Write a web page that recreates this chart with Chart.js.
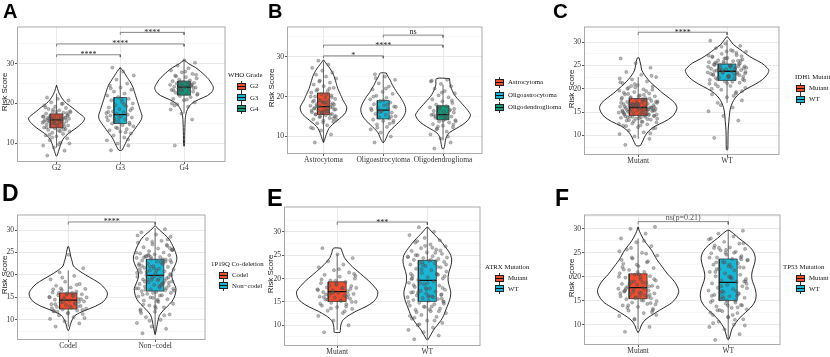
<!DOCTYPE html>
<html><head><meta charset="utf-8">
<script src="https://cdn.jsdelivr.net/npm/chart.js@4.4.1/dist/chart.umd.min.js"></script>
<style>
html,body{margin:0;padding:0;background:#fff;}
body{width:830px;height:357px;position:relative;overflow:hidden;font-family:"Liberation Serif","Times New Roman",serif;}
.lt{position:absolute;font-family:"Liberation Sans",Arial,sans-serif;font-weight:bold;color:#000;line-height:1;}
.yt{position:absolute;font-family:"Liberation Sans",Arial,sans-serif;font-size:8px;color:#222;transform:translate(-50%,-50%) rotate(-90deg);white-space:nowrap;line-height:1;}
.lg{position:absolute;font-size:6.8px;color:#111;white-space:nowrap;line-height:1;transform:translateY(-50%);}
</style>
</head><body>
<script>
// ================= DATA =================
const catsA = ['G2','G3','G4'];
const catsB = ['Astrocytoma','Oligoastrocytoma','Oligodendroglioma'];
const catsC = ['Mutant','WT'];
const catsD = ['Codel','Non\u2212codel'];
const catsE = ['Mutant','WT'];
const catsF = ['Mutant','WT'];

const titleA = 'WHO Grade';
const titleB = '';
const titleC = 'IDH1 Mutation';
const titleD = '1P19Q Co-deletion';
const titleE = 'ATRX Mutation';
const titleF = 'TP53 Mutation';
const axisTitle = 'Risk Score';

const majorsAB = [10,20,30];
const minorsAB = [15,25,35];
const majorsCF = [10,15,20,25,30];
const minorsCF = [7.5,12.5,17.5,22.5,27.5,32.5];

// box stats: [lower whisker, Q1, median, Q3, upper whisker]
const boxA = [[9.0,13.9,15.9,17.4,22.5],[8.5,15.0,17.2,21.5,29.0],[17.5,22.1,24.1,25.6,30.5]];
const boxB = [[8.5,15.5,17.5,20.9,28.8],[8.4,14.4,16.6,19.0,25.6],[9.0,14.2,15.5,17.7,23.0]];
const boxC = [[9.3,14.3,16.0,17.9,22.5],[17.0,21.8,23.75,25.3,30.5]];
const boxD = [[8.5,12.4,14.4,16.0,21.0],[7.0,16.4,19.9,23.5,30.5]];
const boxE = [[9.0,15.1,17.2,19.3,25.2],[7.0,15.1,19.6,23.9,31.0]];
const boxF = [[9.0,15.4,17.7,20.6,28.0],[7.0,15.0,18.8,23.7,29.7]];

// violin density profiles: [risk score, half width in category units]
const vA1 = [[24.6,0],[23,0.03],[22,0.06],[21,0.10],[20,0.16],[19,0.245],[18,0.32],[17,0.40],[16.3,0.44],[15.5,0.42],[15,0.39],[14,0.32],[13,0.23],[12,0.15],[11,0.10],[10,0.07],[9,0.05],[8,0.03],[7,0.01],[6.8,0]];
const vA2 = [[29,0],[28,0.05],[27,0.09],[26,0.13],[25,0.17],[24,0.20],[23,0.22],[22,0.24],[21,0.26],[20,0.28],[19,0.30],[18,0.32],[17,0.34],[16,0.33],[15,0.29],[14,0.245],[13,0.20],[12,0.15],[11,0.11],[10,0.08],[9,0.05],[8.3,0.02]];
const vA3 = [[30.9,0],[30,0.07],[29,0.18],[28,0.26],[27,0.33],[26,0.39],[25,0.43],[24,0.46],[23,0.44],[22,0.37],[21,0.23],[20,0.12],[19,0.07],[18,0.04],[17,0.025],[16,0.018],[14,0.013],[12,0.01],[10,0.008],[9.3,0]];
const vB1 = [[29.2,0],[28,0.06],[27,0.11],[26,0.15],[25,0.18],[24,0.20],[23,0.22],[22,0.24],[21,0.27],[20,0.30],[19,0.33],[18,0.37],[17.2,0.39],[16,0.37],[15,0.31],[14,0.23],[13,0.15],[12,0.09],[11,0.06],[10,0.035],[9,0.015],[8.5,0]];
const vB2 = [[25.9,0.05],[25,0.08],[24,0.12],[23,0.15],[22,0.19],[21,0.23],[20,0.28],[19,0.32],[18,0.355],[17,0.375],[16,0.37],[15,0.34],[14,0.29],[13,0.22],[12,0.15],[11,0.09],[10,0.06],[9,0.03],[8.4,0]];
const vB3 = [[24.5,0.11],[23,0.12],[22,0.14],[21,0.17],[20,0.21],[19,0.27],[18,0.33],[17,0.39],[16,0.44],[15.3,0.46],[14,0.41],[13,0.33],[12,0.22],[11,0.11],[10,0.06],[9,0.04],[8,0.03],[7,0.015],[6.9,0]];
const vC1 = [[26.6,0.01],[25,0.03],[24,0.04],[23,0.07],[22,0.11],[21,0.16],[20,0.22],[19,0.28],[18,0.35],[17,0.41],[16,0.435],[15,0.42],[14,0.38],[13,0.30],[12,0.19],[11,0.12],[10,0.08],[9,0.055],[8,0.03],[7.8,0.02]];
const vC2 = [[31.2,0],[30.5,0.03],[29.5,0.07],[28.5,0.14],[27.5,0.21],[26.5,0.29],[25.5,0.39],[24.5,0.45],[23.9,0.47],[23,0.45],[22,0.40],[21,0.32],[20,0.22],[19,0.14],[18,0.09],[17,0.06],[16,0.04],[15,0.03],[13,0.02],[11,0.012],[9,0.01],[7,0.008],[6.9,0]];
const vD1 = [[26.3,0.005],[25,0.02],[24,0.03],[23,0.045],[22,0.06],[21,0.12],[20,0.2],[19,0.29],[18,0.37],[17,0.42],[16,0.45],[15,0.44],[14,0.40],[13,0.31],[12,0.18],[11,0.08],[10,0.045],[9,0.025],[8,0.012],[7.6,0]];
const vD2 = [[31,0],[30,0.05],[29,0.11],[28,0.16],[27,0.19],[26,0.215],[25,0.235],[24,0.25],[23,0.245],[22,0.225],[21,0.20],[20,0.19],[19,0.20],[18,0.22],[17,0.24],[16,0.235],[15,0.22],[14,0.19],[13,0.14],[12,0.09],[11,0.05],[10,0.035],[9,0.025],[8,0.015],[7,0.005],[6.7,0]];
const vE1 = [[26.5,0.04],[25.5,0.06],[24.5,0.08],[23.5,0.12],[22.5,0.17],[21.5,0.23],[20.5,0.29],[19.5,0.35],[18.5,0.40],[17.2,0.45],[16,0.44],[15,0.40],[14,0.32],[13,0.21],[12,0.12],[11,0.06],[10,0.04],[9,0.035],[8.5,0.033]];
const vE2 = [[31,0.005],[30,0.05],[29,0.10],[28,0.15],[27,0.19],[26,0.23],[25,0.26],[24,0.27],[23,0.265],[22,0.25],[21,0.235],[20,0.23],[19,0.235],[18,0.25],[17,0.26],[16,0.255],[15,0.24],[14,0.22],[13,0.20],[12,0.18],[11,0.15],[10,0.11],[9,0.07],[8,0.04],[7,0.01],[6.8,0]];
const vF1 = [[30.4,0],[29.5,0.015],[28.5,0.04],[27.5,0.07],[26.5,0.11],[25.5,0.15],[24.5,0.18],[23.5,0.21],[22.5,0.25],[21.5,0.29],[20.5,0.33],[19.5,0.38],[18.5,0.42],[17.5,0.445],[16.7,0.45],[15.5,0.42],[14.5,0.37],[14,0.33],[13,0.24],[12,0.155],[11,0.08],[10,0.04],[9,0.02],[8.3,0]];
const vF2 = [[29.7,0.01],[29,0.06],[28,0.12],[27,0.19],[26,0.25],[25,0.285],[24,0.30],[23,0.295],[22,0.28],[21,0.265],[20,0.26],[19,0.27],[18,0.29],[17,0.305],[16,0.31],[15,0.30],[14,0.27],[13,0.22],[12,0.16],[11,0.11],[10,0.07],[9,0.04],[8,0.025],[7,0.01],[6.8,0]];

// jittered sample risk scores
const pA1 = [7.0,8.2,9.0,9.5,10.2,10.8,11.3,11.8,12.0,12.4,12.7,13.0,13.2,13.4,13.6,13.8,14.0,14.1,14.3,14.5,14.6,14.8,15.0,15.1,15.2,15.4,15.5,15.6,15.8,15.9,16.0,16.1,16.2,16.3,16.4,16.5,16.6,16.8,16.9,17.0,17.1,17.3,17.5,17.7,17.9,18.1,18.3,18.6,18.9,19.2,19.5,19.9,20.3,20.8,21.2,21.5,14.2,15.3,16.7,13.1,12.2,17.6,18.0,19.0,20.0,11.5,10.0,9.8,15.7,16.4,15.0,15.5,16.0,16.5,17.0,14.5,14.0,13.5,18.5,17.8,15.2,16.2];
const pA2 = [8.3,9.5,10.0,10.8,11.5,12.0,12.5,13.0,13.3,13.6,14.0,14.3,14.6,15.0,15.2,15.5,15.8,16.0,16.2,16.5,16.8,17.0,17.2,17.4,17.6,17.8,18.0,18.3,18.6,19.0,19.3,19.6,20.0,20.4,20.8,21.2,21.6,22.0,22.5,23.0,23.5,24.0,24.5,25.0,26.0,27.0,28.0,29.0,14.8,16.4,17.9,12.8,15.6,18.8,21.0,23.8,11.0,13.8,16.6,19.8];
const pA3 = [9.5,16.0,17.5,18.5,19.2,19.8,20.3,20.8,21.2,21.6,21.9,22.2,22.5,22.7,23.0,23.2,23.4,23.6,23.8,24.0,24.1,24.2,24.4,24.5,24.7,24.9,25.0,25.2,25.4,25.6,25.8,26.0,26.3,26.6,27.0,27.4,27.8,28.3,28.8,29.5,30.2,30.8,23.3,24.6,25.5,22.4,21.0,26.8,23.9,24.3,20.0,25.1,22.9,27.2,28.0,19.5,24.8,23.5];
const pB1 = [8.5,10.5,11.5,12.2,12.8,13.3,13.7,14.0,14.3,14.6,14.9,15.1,15.3,15.5,15.7,15.9,16.1,16.3,16.5,16.7,16.9,17.1,17.3,17.5,17.7,17.9,18.1,18.3,18.5,18.7,18.9,19.1,19.4,19.7,20.0,20.3,20.6,21.0,21.4,21.8,22.2,22.6,23.0,23.5,24.0,24.5,25.0,25.5,26.0,26.5,27.2,28.0,29.0,15.0,16.0,17.0,18.0,19.0,20.0,16.4,17.6,14.5,13.5,12.0,22.0,23.8,16.8,18.6,15.6,19.8,16.0,16.5,17.0,17.5,18.0,18.5,19.0,15.5,15.0,14.2,20.5,21.5,17.3,16.2];
const pB2 = [8.5,10.0,11.0,11.8,12.4,13.0,13.5,13.9,14.2,14.5,14.8,15.1,15.4,15.7,16.0,16.3,16.6,16.9,17.2,17.5,17.8,18.1,18.5,18.9,19.3,19.7,20.2,20.7,21.2,21.8,22.5,23.3,24.2,25.0,25.6,15.0,16.5,17.0,18.0,12.2,14.0,19.0,20.0,13.2,16.1,17.4,22.0,24.6];
const pB3 = [7.0,8.5,9.5,10.5,11.2,11.8,12.3,12.7,13.1,13.5,13.8,14.1,14.4,14.7,15.0,15.2,15.4,15.6,15.8,16.0,16.2,16.4,16.7,17.0,17.3,17.6,18.0,18.4,18.8,19.3,19.8,20.3,20.8,21.4,22.0,22.6,23.2,23.8,24.2,12.0,13.0,14.0,15.5,16.5,17.5,13.8,14.9,15.1,19.0,21.0,24.0,10.0,12.5,16.9];
const pC1 = [8.0,9.3,9.8,10.3,10.7,11.1,11.5,11.8,12.1,12.4,12.6,12.8,13.0,13.2,13.4,13.6,13.8,14.0,14.1,14.2,14.4,14.5,14.6,14.8,14.9,15.0,15.1,15.2,15.3,15.4,15.5,15.6,15.7,15.8,15.9,16.0,16.1,16.2,16.3,16.4,16.5,16.6,16.7,16.8,16.9,17.0,17.1,17.2,17.4,17.6,17.8,18.0,18.2,18.4,18.6,18.8,19.0,19.3,19.6,19.9,20.2,20.5,20.8,21.2,21.6,22.0,22.5,23.0,23.6,24.5,25.5,26.5,14.3,15.2,16.1,13.7,14.7,15.6,16.6,17.3,12.9,13.9,15.9,16.9,18.1,19.5,20.6,11.6,12.2,14.1,17.9,21.0,22.2,18.7,13.3,15.4,16.4,14.9,13.5,14.0,14.5,15.0,15.5,16.0,16.5,17.0,17.5,18.0,15.3,15.8,16.2,14.4,13.1,12.5,17.7,18.9,19.8,16.8,15.1,14.6,16.3,17.2,13.9,12.0,10.5,20.3,21.4,15.7,16.9,14.2,18.4,19.2,15.5,16.6,13.6,17.8,20.0,22.8];
const pC2 = [9.5,13.2,14.2,15.2,16.0,17.0,17.5,18.2,18.8,19.3,19.8,20.2,20.6,21.0,21.3,21.6,21.9,22.2,22.4,22.6,22.8,23.0,23.2,23.4,23.5,23.7,23.9,24.0,24.2,24.3,24.5,24.6,24.8,25.0,25.1,25.3,25.5,25.7,25.9,26.1,26.3,26.6,26.9,27.2,27.5,27.9,28.3,28.7,29.2,29.7,30.3,23.1,24.1,24.4,22.5,25.2,26.0,23.6,24.7,21.5,22.0,27.0,28.0,20.0,19.0,16.5,23.3,24.9,25.6,22.9,26.5,21.1,18.5,24.0,22.0,22.5,23.0,23.5,24.0,24.5,25.0,25.5,26.0,26.5,23.2,24.2,25.2,21.8,22.7,23.8,24.8,25.8,27.1,28.1,20.5,19.5,21.2,26.8,27.7,29.0,23.6,24.6,22.3,25.4];
const pD1 = [8.5,9.2,9.7,10.2,10.6,11.0,11.3,11.6,11.9,12.1,12.3,12.5,12.7,12.9,13.1,13.3,13.5,13.7,13.9,14.1,14.3,14.5,14.7,14.9,15.1,15.3,15.5,15.7,15.9,16.1,16.3,16.6,16.9,17.2,17.6,18.0,18.5,19.0,19.8,20.6,21.5,24.5,12.0,13.0,14.0,15.0,16.0,11.8,14.6,15.6,12.6,13.6,17.0,10.4,13.0,13.5,14.0,14.5,15.0,15.5,16.0,12.2,11.4,16.8,17.8,19.4];
const pD2 = [7.0,8.0,8.5,9.3,10.0,10.6,11.2,11.8,12.3,12.8,13.2,13.6,14.0,14.3,14.6,14.9,15.2,15.5,15.8,16.0,16.2,16.4,16.6,16.8,17.0,17.2,17.4,17.6,17.8,18.0,18.2,18.4,18.6,18.8,19.0,19.2,19.4,19.6,19.8,20.0,20.2,20.4,20.6,20.8,21.0,21.2,21.4,21.6,21.8,22.0,22.2,22.4,22.6,22.8,23.0,23.2,23.4,23.6,23.8,24.0,24.2,24.4,24.6,24.8,25.0,25.3,25.6,25.9,26.2,26.5,26.8,27.2,27.6,28.0,28.5,29.0,29.5,30.2,15.0,16.5,17.5,18.5,19.5,21.5,22.5,23.5,24.5,25.5,14.2,15.6,17.1,18.9,20.5,22.9,24.1,26.0,13.0,12.0,11.0,9.8,16.9,19.1,23.9,27.9,16.0,17.0,18.0,19.0,20.0,21.0,22.0,23.0,24.0,25.0,15.4,16.7,18.3,19.7,21.3,22.7,24.3,25.7,14.5,13.4,26.7,27.4,28.8,17.8,20.7,23.3,12.6,11.5,18.7,21.9];
const pE1 = [8.5,10.0,11.0,12.0,12.6,13.1,13.5,13.9,14.2,14.5,14.8,15.0,15.3,15.5,15.7,15.9,16.1,16.3,16.5,16.7,16.9,17.1,17.3,17.5,17.7,17.9,18.1,18.4,18.7,19.0,19.3,19.6,20.0,20.4,20.8,21.3,21.8,22.4,23.0,23.7,24.4,25.2,26.5,16.0,17.0,18.0,15.2,16.6,17.8,19.5,14.6,13.0,18.5,21.0,22.0,16.0,16.5,17.0,17.5,18.0,15.5,15.0,18.8,19.8,14.0,13.6,20.6];
const pE2 = [7.0,7.8,8.5,9.0,9.5,10.0,10.5,11.0,11.4,11.8,12.2,12.6,13.0,13.3,13.6,13.9,14.2,14.5,14.8,15.0,15.2,15.4,15.6,15.8,16.0,16.2,16.4,16.6,16.8,17.0,17.2,17.4,17.6,17.9,18.2,18.5,18.8,19.1,19.4,19.7,20.0,20.3,20.6,20.9,21.2,21.5,21.8,22.1,22.4,22.7,23.0,23.2,23.4,23.6,23.8,24.0,24.2,24.4,24.6,24.8,25.0,25.3,25.6,25.9,26.2,26.5,26.9,27.3,27.7,28.2,28.7,29.3,30.0,31.0,15.1,16.1,17.1,22.5,23.5,24.5,14.0,12.8,16.5,18.0,21.0,25.5,19.0,20.5,13.4,11.6,13.0,14.0,15.0,16.0,17.0,18.0,19.0,20.0,21.0,22.0,23.0,24.0,25.0,26.0,27.0,12.0,11.0,10.2,14.6,16.3,18.6,20.8,22.9,24.7,26.6,28.0,15.7,17.7,19.9,23.7];
const pF1 = [8.5,9.5,11.0,11.8,12.4,12.9,13.3,13.7,14.0,14.3,14.6,14.9,15.1,15.3,15.5,15.7,15.9,16.1,16.3,16.5,16.7,16.9,17.1,17.3,17.5,17.7,17.9,18.1,18.3,18.5,18.7,18.9,19.2,19.5,19.8,20.1,20.4,20.7,21.0,21.4,21.8,22.2,22.7,23.2,23.8,24.4,25.0,25.7,26.4,27.2,28.0,29.0,30.0,30.4,16.0,17.0,18.0,19.0,20.0,15.0,14.0,13.0,21.0,22.0,23.0,24.0,12.0,16.6,17.6,14.5,15.5,16.5,17.5,18.5,19.5,20.5,21.5,15.8,16.8,17.8,18.8,13.5,12.6,22.5,23.5,24.8,26.0,14.2,19.9,17.2,16.2,11.2,25.3,27.5];
const pF2 = [6.8,8.0,9.0,9.5,10.0,10.6,11.1,11.6,12.0,12.4,12.8,13.2,13.5,13.8,14.1,14.4,14.7,15.0,15.3,15.6,15.9,16.2,16.5,16.8,17.1,17.4,17.7,18.0,18.3,18.6,18.9,19.2,19.5,19.8,20.1,20.4,20.7,21.0,21.3,21.6,21.9,22.2,22.5,22.8,23.1,23.4,23.7,24.0,24.3,24.6,24.9,25.2,25.5,25.8,26.1,26.5,26.9,27.3,27.8,28.4,29.0,29.6,14.0,15.0,16.0,17.0,18.5,22.0,23.0,24.0,25.0,12.5,11.0,13.0,19.0,20.0,26.0,16.4,15.5,23.5,12.0,13.0,14.0,15.0,16.0,17.0,18.0,19.0,20.0,21.0,22.0,23.0,24.0,25.0,26.0,27.0,11.5,10.3,13.6,15.8,17.6,19.6,21.6,23.6,25.6,28.0,14.6,16.6,9.8,22.6];

// significance comparisons: [group a, group b, bracket height, label]
const sigA = [[1,2,32.2,'****'],[1,3,34.9,'****'],[2,3,37.8,'****']];
const sigB = [[1,2,30.2,'*'],[1,3,32.9,'****'],[2,3,35.4,'ns']];
const sigC = [[1,2,32.1,'****']];
const sigD = [[1,2,31.8,'****']];
const sigE = [[1,2,32.1,'***']];
const sigF = [[1,2,31.5,'ns(p=0.21)']];

// ================= STYLE / LAYOUT =================
const RED = '#F04E30', BLUE = '#1BB6D6', GREEN = '#13987A';
const BW = 0.1;      // half box width (category units)
const JW = 0.22;     // jitter half width
const jit = k => (((k * 0.6180339887 + 0.17) % 1) - 0.5) * 2 * JW;

const panels = [
 {cats:catsA, title:titleA, colors:[RED,BLUE,GREEN], box:boxA, vio:[vA1,vA2,vA3], pts:[pA1,pA2,pA3], sig:sigA, maj:majorsAB, min:minorsAB,
  L:{l:17,t:23,r:228,b:162,x0:0.38,x1:3.65,y0:5.37,y1:39.27}, letter:['A',3,1,20], yt:[5,92], lt:[228,75], kx:237, ky:[86,97.5,108.5]},
 {cats:catsB, title:titleB, colors:[RED,BLUE,GREEN], box:boxB, vio:[vB1,vB2,vB3], pts:[pB1,pB2,pB3], sig:sigB, maj:majorsAB, min:minorsAB,
  L:{l:287,t:23,r:485,b:154,x0:0.39,x1:3.66,y0:5.61,y1:37.56}, letter:['B',268,1,20], yt:[272,88], lt:null, kx:495, ky:[82,95,107]},
 {cats:catsC, title:titleC, colors:[RED,BLUE], box:boxC, vio:[vC1,vC2], pts:[pC1,pC2], sig:sigC, maj:majorsCF, min:minorsCF,
  L:{l:584,t:23,r:782,b:155,x0:0.39,x1:2.59,y0:5.83,y1:33.33}, letter:['C',553,0.5,20.5], yt:[572,89], lt:[795,77], kx:796, ky:[88,99]},
 {cats:catsD, title:titleD, colors:[RED,BLUE], box:boxD, vio:[vD1,vD2], pts:[pD1,pD2], sig:sigD, maj:majorsCF, min:minorsCF,
  L:{l:17,t:211,r:208,b:340,x0:0.41,x1:2.58,y0:5.51,y1:33.47}, letter:['D',2,181.5,23], yt:[5,275], lt:[211,264], kx:219, ky:[275.3,285.7]},
 {cats:catsE, title:titleE, colors:[RED,BLUE], box:boxE, vio:[vE1,vE2], pts:[pE1,pE2], sig:sigE, maj:majorsCF, min:minorsCF,
  L:{l:284,t:203,r:483,b:346,x0:0.41,x1:2.59,y0:5.55,y1:35.43}, letter:['E',267,186.5,23.5], yt:[271,274], lt:[485,267], kx:495, ky:[278,288.7]},
 {cats:catsF, title:titleF, colors:[RED,BLUE], box:boxF, vio:[vF1,vF2], pts:[pF1,pF2], sig:sigF, maj:majorsCF, min:minorsCF,
  L:{l:584,t:211,r:783,b:345,x0:0.40,x1:2.58,y0:5.73,y1:32.99}, letter:['F',555,186.5,23], yt:[572,278], lt:[783,267], kx:796, ky:[278,288.7]}
];

function addDiv(cls, txt, css){
  const d = document.createElement('div');
  if (cls) d.className = cls;
  if (txt != null) d.textContent = txt;
  d.style.cssText += css;
  document.body.appendChild(d);
  return d;
}

function framePlugin(p){
  return {
    id:'frame'+p.letter[0],
    afterDatasetsDraw(chart){
      const {ctx, chartArea:a, scales:{x,y}} = chart;
      ctx.save();
      ctx.strokeStyle = '#A9A9A9'; ctx.lineWidth = 1;
      ctx.strokeRect(a.left+0.5, a.top+0.5, a.right-a.left-1, a.bottom-a.top-1);
      ctx.textAlign = 'center';
      p.sig.forEach(([i,j,yl,txt])=>{
        const px = x.getPixelForValue((i+j)/2), py = y.getPixelForValue(yl);
        const stars = /^\*+$/.test(txt);
        ctx.font = '8px "Liberation Serif", serif';
        ctx.fillStyle = txt.indexOf('(') >= 0 ? '#555' : '#222';
        ctx.textBaseline = 'alphabetic';
        ctx.fillText(txt, px, stars ? py + 2.5 : py - 1.5);
      });
      ctx.restore();
    }
  };
}

function build(p){
  const L = p.L;
  const YW = 22, XH = 14;
  const W = L.r - L.l + YW + 2, H = L.b - L.t + XH + 2;
  const cv = document.createElement('canvas');
  cv.width = W; cv.height = H;
  cv.style.cssText = `position:absolute;left:${L.l-YW}px;top:${L.t-2}px;width:${W}px;height:${H}px;`;
  document.body.appendChild(cv);

  const ds = [];
  p.cats.forEach((cat,i)=>{
    const c = i+1, v = p.vio[i], s = p.box[i], col = p.colors[i];
    const right = v.map(([y,w])=>({x:c+w, y}));
    const left = v.slice().reverse().map(([y,w])=>({x:c-w, y}));
    ds.push({type:'line', data:[...right, ...left, right[0]], borderColor:'#111', borderWidth:0.9,
      backgroundColor:'#ffffff', fill:'shape', tension:0.3, pointRadius:0, order:5});
    ds.push({type:'line', data:[{x:c,y:s[0]},{x:c,y:s[4]}], borderColor:'#222', borderWidth:0.7, pointRadius:0, fill:false, order:4});
    ds.push({type:'line', data:[{x:c-BW,y:s[1]},{x:c+BW,y:s[1]},{x:c+BW,y:s[3]},{x:c-BW,y:s[3]},{x:c-BW,y:s[1]}],
      borderColor:'#222', borderWidth:0.7, backgroundColor:col, fill:'shape', tension:0, pointRadius:0, order:3});
    ds.push({type:'line', data:[{x:c-BW,y:s[2]},{x:c+BW,y:s[2]}], borderColor:'#111', borderWidth:1.3, pointRadius:0, fill:false, order:2});
    ds.push({type:'scatter', data:p.pts[i].map((y,k)=>({x:c+jit(k), y})), pointRadius:1.6,
      backgroundColor:'rgba(95,95,95,0.45)', borderColor:'rgba(55,55,55,0.5)', borderWidth:0.5, order:1});
  });
  p.sig.forEach(([a,b,y])=>{
    ds.push({type:'line', data:[{x:a,y:y-0.6},{x:a,y},{x:b,y},{x:b,y:y-0.6}], borderColor:'#555', borderWidth:0.7,
      pointRadius:0, fill:false, tension:0, order:0});
  });

  const allY = [...p.maj, ...p.min].sort((a,b)=>a-b);
  const isMaj = v => p.maj.includes(v);
  new Chart(cv, {
    type:'scatter',
    data:{datasets:ds},
    plugins:[framePlugin(p)],
    options:{
      responsive:false, animation:false, events:[],
      layout:{padding:{left:0, right:2, top:2, bottom:0}},
      plugins:{legend:{display:false}, tooltip:{enabled:false}},
      scales:{
        x:{type:'linear', position:'bottom', min:L.x0, max:L.x1,
          afterBuildTicks:s=>{ s.ticks = p.cats.map((c,i)=>({value:i+1})); },
          afterFit:s=>{ s.height = XH; },
          border:{display:false},
          grid:{color:'#E8E8E8', lineWidth:0.9, drawTicks:true, tickLength:2, tickColor:'#444'},
          ticks:{autoSkip:false, maxRotation:0, padding:0, color:'#333',
            font:{family:'"Liberation Serif", serif', size:7.5, lineHeight:1},
            callback:(v)=>p.cats[Math.round(v)-1] || ''}
        },
        y:{type:'linear', position:'left', min:L.y0, max:L.y1,
          afterBuildTicks:s=>{ s.ticks = allY.filter(v=>v>=L.y0 && v<=L.y1).map(v=>({value:v})); },
          afterFit:s=>{ s.width = YW; },
          border:{display:false},
          grid:{drawTicks:true, tickLength:2,
            color:c=> (c.tick && isMaj(c.tick.value)) ? '#E6E6E6' : '#F2F2F2',
            lineWidth:c=> (c.tick && isMaj(c.tick.value)) ? 0.9 : 0.6,
            tickColor:c=> (c.tick && isMaj(c.tick.value)) ? '#444' : 'rgba(0,0,0,0)'},
          ticks:{padding:1, color:'#333', font:{family:'"Liberation Serif", serif', size:7.5},
            callback:(v)=> isMaj(v) ? String(v) : ''}
        }
      }
    }
  });

  // panel letter
  const [lt, lx, ly, ls] = p.letter;
  addDiv('lt', lt, `left:${lx}px;top:${ly}px;font-size:${ls}px;`);
  // y axis title
  addDiv('yt', axisTitle, `left:${p.yt[0]}px;top:${p.yt[1]}px;`);
  // legend
  if (p.title) addDiv('lg', p.title, `left:${p.lt[0]}px;top:${p.lt[1]}px;`);
  p.cats.forEach((c,i)=>{
    const k = addDiv(null, null, `position:absolute;left:${p.kx}px;top:${p.ky[i]-5.5}px;width:9px;height:11px;`);
    k.innerHTML = `<div style="position:absolute;left:4px;top:0;width:1px;height:11px;background:#333"></div>`+
      `<div style="position:absolute;left:0;top:2px;width:9px;height:7px;box-sizing:border-box;border:0.7px solid #222;background:${p.colors[i]}"></div>`+
      `<div style="position:absolute;left:0;top:5px;width:9px;height:1px;background:#111"></div>`;
    addDiv('lg', c, `left:${p.kx+13}px;top:${p.ky[i]}px;`);
  });
}

panels.forEach(build);
</script>
</body></html>
